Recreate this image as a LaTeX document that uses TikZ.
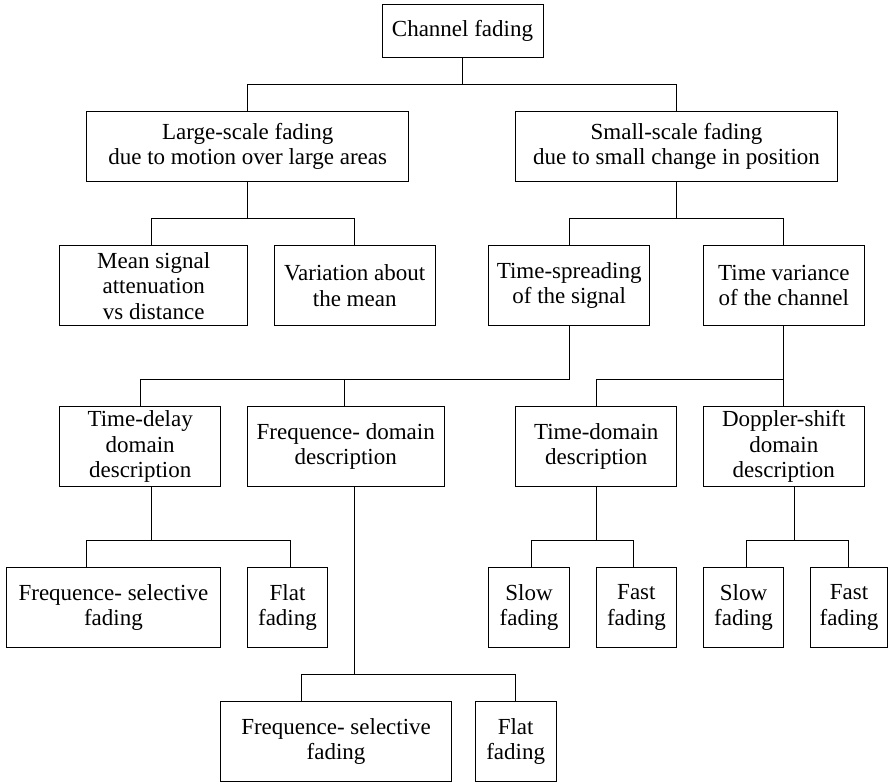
\documentclass[tikz,border=0pt]{standalone}
\usepackage{fontspec}
\setmainfont{Liberation Serif}
\begin{document}
\begin{tikzpicture}[x=1pt,y=-1pt,
  box/.style={draw, line width=0.9pt, rectangle, inner sep=0pt, align=center,
    font=\fontsize{23}{25.5}\selectfont},
  conn/.style={line width=0.9pt}]
\useasboundingbox (0,0) rectangle (888,783);
% boxes
\node[box, minimum width=161pt, minimum height=53.3pt] (cf) at (462.5,30.7) {Channel fading};
\node[box, minimum width=322pt, minimum height=69.7pt] (ls) at (247.7,146.2) {Large-scale fading\\ due to motion over large areas};
\node[box, minimum width=321.6pt, minimum height=69.7pt] (ss) at (676.5,146.2) {Small-scale fading\\due to small change in position};
\node[box, minimum width=188pt, minimum height=80pt] (ms) at (153.7,285.7) {Mean signal\\attenuation\\vs distance};
\node[box, minimum width=161.3pt, minimum height=80pt] (va) at (354.7,285.7) {Variation about\\the mean};
\node[box, minimum width=161pt, minimum height=80pt] (ts) at (569.2,285.7) {Time-spreading\\of the signal};
\node[box, minimum width=161pt, minimum height=80pt] (tv) at (783.8,285.7) {Time variance\\of the channel};
\node[box, minimum width=161pt, minimum height=80pt] (td) at (140.2,446.7) {Time-delay\\domain\\description};
\node[box, minimum width=196.7pt, minimum height=80pt] (fd) at (345.7,446.7) {Frequence- domain\\description};
\node[box, minimum width=161pt, minimum height=80pt] (tdm) at (596.2,446.7) {Time-domain\\description};
\node[box, minimum width=161pt, minimum height=80pt] (ds) at (783.8,446.7) {Doppler-shift\\domain\\description};
\node[box, minimum width=214.7pt, minimum height=80.4pt] (fs1) at (113.4,607.5) {Frequence- selective\\fading};
\node[box, minimum width=80.4pt, minimum height=80.4pt] (ff1) at (287.5,607.5) {Flat\\fading};
\node[box, minimum width=80.6pt, minimum height=80.4pt] (sf1) at (529,607.5) {Slow\\fading};
\node[box, minimum width=80.7pt, minimum height=80.4pt] (fa1) at (636.4,607.5) {Fast\\fading};
\node[box, minimum width=80.4pt, minimum height=80.4pt] (sf2) at (743.5,607.5) {Slow\\fading};
\node[box, minimum width=77pt, minimum height=80.4pt] (fa2) at (849,607.5) {Fast\\fading};
\node[box, minimum width=230.8pt, minimum height=80pt] (fs2) at (336.1,741.7) {Frequence- selective\\fading};
\node[box, minimum width=80.7pt, minimum height=80pt] (ff2) at (515.7,741.7) {Flat\\fading};
% levels
\coordinate (y1) at (0,84.3);
\coordinate (y2) at (0,218.7);
\coordinate (y3) at (0,379.7);
\coordinate (y4) at (0,540.5);
\coordinate (y5) at (0,674.7);
% connectors
\draw[conn] (cf.south) -- (cf.south |- y1);
\draw[conn] (ls.north) |- (ss.north |- y1) -- (ss.north);
\draw[conn] (ls.south) -- (ls.south |- y2);
\draw[conn] ([xshift=-2.4pt]ms.north) |- (va.north |- y2) -- (va.north);
\draw[conn] (ss.south) -- (ss.south |- y2);
\draw[conn] (ts.north) |- (tv.north |- y2) -- (tv.north);
\draw[conn] (ts.south) |- (td.north |- y3) -- (td.north);
\draw[conn] ([xshift=-1.7pt]fd.north) -- ([xshift=-1.7pt]fd.north |- y3);
\draw[conn] (tv.south) -- (ds.north);
\draw[conn] (tdm.north) |- (tv.south |- y3);
\draw[conn] ([xshift=11.1pt]td.south) -- ([xshift=11.1pt]td.south |- y4);
\draw[conn] ([xshift=-26.7pt]fs1.north) |- ([xshift=2.5pt]ff1.north |- y4) -- ([xshift=2.5pt]ff1.north);
\draw[conn] ([xshift=8.6pt]fd.south) -- ([xshift=8.6pt]fd.south |- y5);
\draw[conn] ([xshift=-34.8pt]fs2.north) |- (ff2.north |- y5) -- (ff2.north);
\draw[conn] (tdm.south) -- (tdm.south |- y4);
\draw[conn] ([xshift=2.7pt]sf1.north) |- ([xshift=-2.7pt]fa1.north |- y4) -- ([xshift=-2.7pt]fa1.north);
\draw[conn] ([xshift=10.2pt]ds.south) -- ([xshift=10.2pt]ds.south |- y4);
\draw[conn] ([xshift=2.8pt]sf2.north) |- ([xshift=-1pt]fa2.north |- y4) -- ([xshift=-1pt]fa2.north);
\end{tikzpicture}
\end{document}
